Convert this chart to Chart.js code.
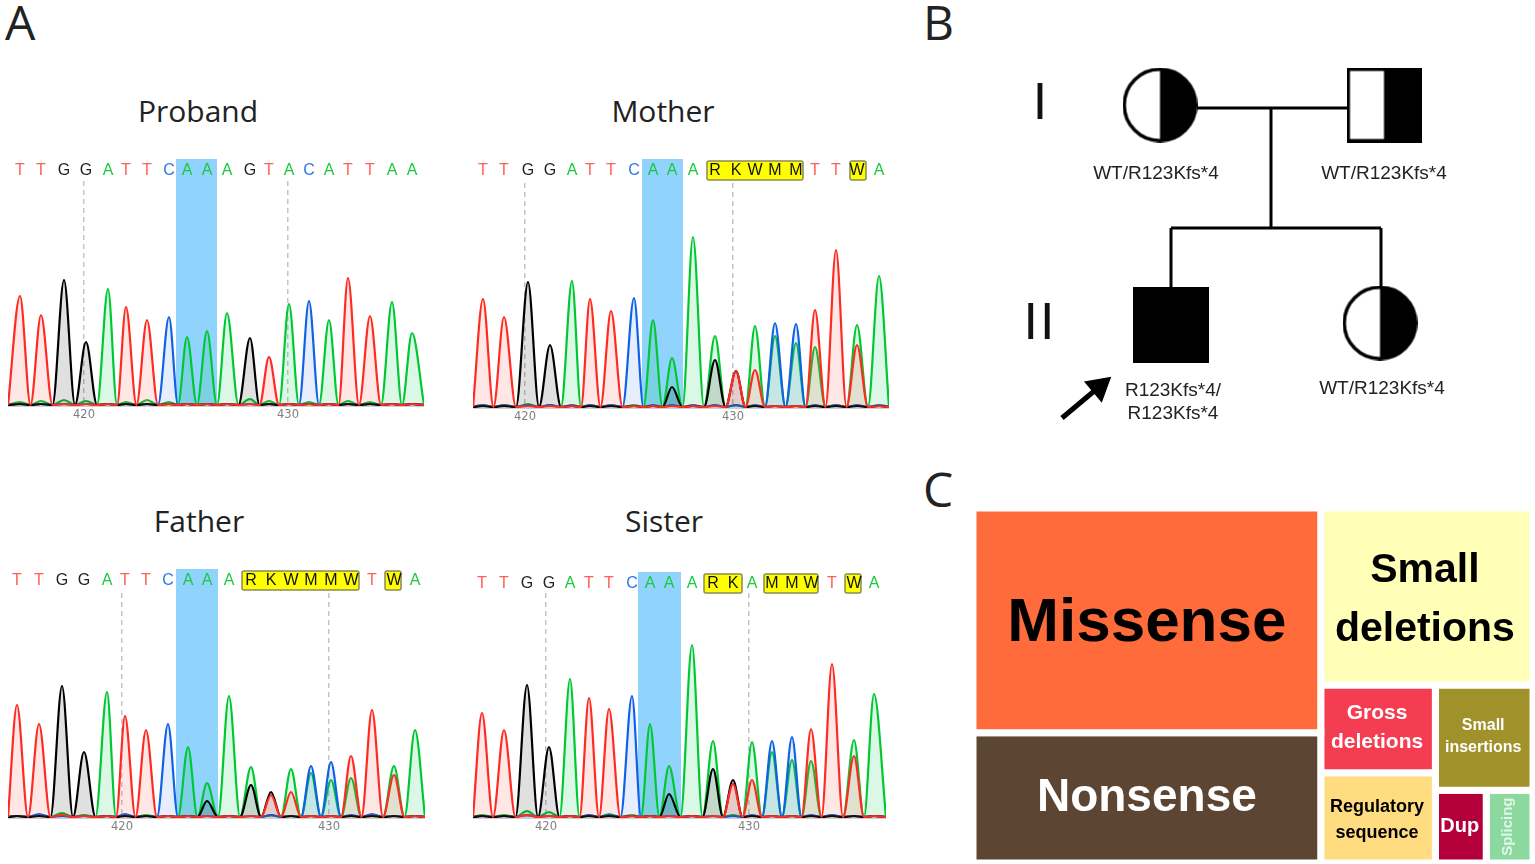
<!DOCTYPE html>
<html>
<head>
<meta charset="utf-8">
<title>Sequencing, pedigree and mutation types</title>
<script src="https://cdn.jsdelivr.net/npm/chart.js@4/dist/chart.umd.min.js"></script>
<style>
    html, body { margin: 0; padding: 0; background: #fff; width: 1535px; height: 864px; overflow: hidden; }
    canvas { position: absolute; display: block; }
    .txt { position: absolute; font-family: "Open Sans", sans-serif; color: #222; line-height: 1; white-space: nowrap; }
    .panel { font-size: 48px; }
    .name { font-size: 30px; transform: translateX(-50%); }
    .gen { font-family: "Liberation Sans", sans-serif; font-size: 52px; letter-spacing: 2px; color: #111; transform: translateX(-50%); }
</style>
</head>
<body>
<div class="txt panel" style="left:5px;top:-2px">A</div>
<div class="txt panel" style="left:923px;top:-2px">B</div>
<div class="txt panel" style="left:923px;top:465px">C</div>
<div class="txt name" style="left:198px;top:96px">Proband</div>
<div class="txt name" style="left:663px;top:96px">Mother</div>
<div class="txt name" style="left:199px;top:506px">Father</div>
<div class="txt name" style="left:664px;top:506px">Sister</div>
<div class="txt gen" style="left:1041px;top:75px">I</div>
<div class="txt gen" style="left:1040px;top:295px">II</div>

<canvas id="proband" width="416" height="270" style="left:8px;top:155px"></canvas>
<canvas id="mother" width="416" height="270" style="left:473px;top:157px"></canvas>
<canvas id="father" width="417" height="270" style="left:8px;top:567px"></canvas>
<canvas id="sister" width="413" height="270" style="left:473px;top:567px"></canvas>
<canvas id="pedigree" width="430" height="390" style="left:1020px;top:50px"></canvas>
<canvas id="treemap" width="560" height="355" style="left:973px;top:508px"></canvas>

<script>
// Proband trace
const probandBases = 'TTGGATTCAAAGTACATTAA';
const probandScan = [12, 33, 56, 78, 100, 118, 139, 161, 179, 199, 219, 242, 261, 281, 301, 321, 340, 362, 384, 404];
const probandT = [109, 90, 1, 1, 1, 98, 85, 1, 1, 1, 1, 1, 48, 1, 1, 1, 127, 89, 1, 1];
const probandA = [3, 4, 5, 4, 116, 3, 5, 3, 68, 74, 92, 6, 4, 101, 3, 85, 4, 3, 103, 72];
const probandC = [1, 1, 1, 1, 1, 1, 1, 88, 1, 1, 1, 1, 1, 1, 104, 1, 1, 1, 1, 1];
const probandG = [1, 1, 125, 63, 1, 1, 1, 1, 1, 1, 1, 67, 1, 1, 1, 1, 1, 1, 1, 1];
const probandTicks = [76, 280];

// Mother trace
const motherBases = 'TTGGATTCAAARKWMMTTWA';
const motherScan = [10, 31, 55, 77, 99, 117, 138, 161, 180, 199, 220, 242, 263, 282, 302, 323, 342, 363, 384, 406];
const motherT = [108, 90, 1, 1, 1, 108, 96, 1, 1, 1, 1, 1, 36, 37, 1, 1, 97, 157, 62, 1];
const motherA = [2, 2, 3, 2, 126, 2, 2, 2, 87, 49, 170, 71, 2, 81, 71, 64, 60, 2, 82, 131];
const motherC = [2, 2, 2, 2, 2, 2, 2, 109, 2, 2, 2, 2, 2, 2, 84, 83, 2, 2, 2, 2];
const motherG = [1, 1, 125, 62, 1, 1, 1, 1, 1, 20, 1, 47, 36, 1, 1, 1, 1, 1, 1, 1];
const motherTicks = [52, 260];

// Father trace
const fatherBases = 'TTGGATTCAAARKWMMWTWA';
const fatherScan = [9, 31, 54, 76, 99, 117, 138, 160, 180, 199, 221, 243, 263, 283, 303, 323, 343, 364, 386, 407];
const fatherT = [112, 93, 2, 1, 1, 101, 87, 1, 1, 1, 1, 1, 22, 25, 1, 1, 61, 107, 42, 1];
const fatherA = [1, 2, 4, 2, 125, 2, 2, 1, 70, 34, 121, 50, 2, 48, 44, 37, 39, 2, 51, 87];
const fatherC = [1, 3, 1, 1, 1, 3, 1, 93, 1, 1, 1, 1, 2, 1, 51, 55, 2, 3, 1, 1];
const fatherG = [1, 1, 131, 65, 1, 1, 1, 1, 1, 16, 1, 32, 25, 1, 1, 1, 1, 1, 1, 1];
const fatherTicks = [114, 321];

// Sister trace
const sisterBases = 'TTGGATTCAAARKAMMWTWA';
const sisterScan = [9, 31, 54, 76, 97, 116, 136, 159, 177, 196, 219, 240, 260, 279, 299, 319, 338, 359, 381, 401];
const sisterT = [104, 87, 2, 1, 1, 119, 108, 1, 1, 1, 1, 1, 33, 37, 1, 1, 88, 153, 61, 1];
const sisterA = [2, 2, 6, 5, 138, 2, 3, 2, 93, 51, 172, 76, 2, 75, 65, 57, 56, 2, 77, 123];
const sisterC = [1, 1, 2, 1, 1, 2, 2, 121, 1, 1, 1, 1, 1, 2, 76, 80, 2, 2, 1, 1];
const sisterG = [1, 1, 132, 70, 1, 1, 1, 1, 1, 23, 1, 48, 37, 1, 1, 1, 1, 1, 1, 1];
const sisterTicks = [73, 276];

const positionLabels = ['420', '430'];

// Pedigree
const pedigreeNames = ['WT/R123Kfs*4', 'WT/R123Kfs*4', 'R123Kfs*4/\nR123Kfs*4', 'WT/R123Kfs*4'];
const pedigreeX = [140, 364, 151, 360];
const pedigreeY = [55, 55, 275, 273];
const pedigreeLineX = [[177, 327], [251, 251], [151, 361], [151, 151], [361, 361]];
const pedigreeLineY = [[58, 58], [58, 178], [178, 178], [178, 238], [178, 238]];
const arrowX = [42, 79];
const arrowY = [368, 337];

// Mutation types, percent of all entries
const mutationTypes = ['Missense', 'Nonsense', 'Small deletions', 'Gross deletions', 'Regulatory sequence', 'Small insertions', 'Dup', 'Splicing'];
const mutationShare = [39.3, 22.8, 18.9, 5.06, 5.2, 5.17, 1.86, 1.71];
const mutationTree = [[0, 1], [2, [[3, 4], [5, [6, 7]]]]];

const traceColors = { T: '#ff2b22', G: '#000000', C: '#0f62e6', A: '#00c832' };
const traceFills = { T: 'rgba(255,60,40,0.12)', G: 'rgba(0,0,0,0.12)', C: 'rgba(30,100,235,0.11)', A: 'rgba(0,200,70,0.14)' };
const letterColors = { T: '#ff5f55', G: '#222222', C: '#2d78e8', A: '#1cc83e' };

function traceDataset(channel, heights, scan, scanEnd) {
    const points = [{ x: 0, y: 0 }];
    heights.forEach((h, i) => {
        points.push({ x: scan[i], y: h });
        const next = i < scan.length - 1 ? (scan[i] + scan[i + 1]) / 2 : scanEnd;
        points.push({ x: next, y: 0 });
    });
    return {
        label: channel,
        data: points,
        showLine: true,
        borderColor: traceColors[channel],
        backgroundColor: traceFills[channel],
        borderWidth: 2.2,
        pointRadius: 0,
        fill: 'origin',
        cubicInterpolationMode: 'monotone',
        clip: false
    };
}

function drawTrace(id, p) {
    const bandPlugin = {
        id: 'bands',
        beforeDraw(chart) {
            const { ctx, chartArea, scales } = chart;
            const x = scales.x;
            ctx.save();
            ctx.fillStyle = '#90d3fc';
            ctx.fillRect(x.getPixelForValue(p.blue[0]), chartArea.top - p.bandRise, x.getPixelForValue(p.blue[1]) - x.getPixelForValue(p.blue[0]), chartArea.bottom - chartArea.top + p.bandRise);
            p.yellow.forEach(box => {
                const left = x.getPixelForValue(box[0]);
                const right = x.getPixelForValue(box[1]);
                ctx.beginPath();
                ctx.roundRect(left, chartArea.top - p.lift - 9, right - left, 19, 2);
                ctx.fillStyle = '#ffff00';
                ctx.fill();
                ctx.lineWidth = 1.5;
                ctx.strokeStyle = '#8b8b55';
                ctx.stroke();
            });
            ctx.restore();
        }
    };
    new Chart(document.getElementById(id), {
        type: 'scatter',
        data: {
            datasets: [
                traceDataset('T', p.T, p.scan, p.end),
                traceDataset('G', p.G, p.scan, p.end),
                traceDataset('C', p.C, p.scan, p.end),
                traceDataset('A', p.A, p.scan, p.end)
            ]
        },
        plugins: [bandPlugin],
        options: {
            responsive: false,
            animation: false,
            layout: { padding: 0, autoPadding: false },
            plugins: { legend: { display: false }, tooltip: { enabled: false } },
            scales: {
                x: {
                    type: 'linear',
                    position: 'bottom',
                    min: 0,
                    max: p.end,
                    afterBuildTicks: axis => { axis.ticks = p.ticks.map(v => ({ value: v })); },
                    afterFit: axis => { axis.height = 20; },
                    grid: { color: '#c4c4c4', lineWidth: 1.5, drawTicks: false },
                    border: { color: '#cfcfcf', width: 3, dash: [5, 4] },
                    ticks: {
                        autoSkip: false,
                        maxRotation: 0,
                        padding: 3,
                        color: '#808080',
                        font: { family: 'DejaVu Sans', size: 11.5 },
                        callback: (value, index) => positionLabels[index]
                    }
                },
                xTop: {
                    type: 'linear',
                    position: 'top',
                    min: 0,
                    max: p.end,
                    afterBuildTicks: axis => { axis.ticks = p.scan.map(v => ({ value: v })); },
                    afterFit: axis => { axis.height = 26; },
                    grid: { display: false, drawTicks: false },
                    border: { display: false },
                    ticks: {
                        autoSkip: false,
                        maxRotation: 0,
                        padding: p.lift - 10,
                        font: { family: 'Liberation Sans', size: 16 },
                        color: ctx => letterColors[ctx.tick.label] || '#111111',
                        callback: (value, index) => p.bases[index]
                    }
                },
                y: { display: false, min: 0, max: 224 }
            }
        }
    });
}

drawTrace('proband', { bases: probandBases, scan: probandScan, T: probandT, A: probandA, C: probandC, G: probandG, ticks: probandTicks, end: 416, blue: [168, 209], yellow: [], lift: 11, bandRise: 22 });
drawTrace('mother', { bases: motherBases, scan: motherScan, T: motherT, A: motherA, C: motherC, G: motherG, ticks: motherTicks, end: 416, blue: [169, 210], yellow: [[234, 330], [377, 393]], lift: 13, bandRise: 24 });
drawTrace('father', { bases: fatherBases, scan: fatherScan, T: fatherT, A: fatherA, C: fatherC, G: fatherG, ticks: fatherTicks, end: 417, blue: [168, 210], yellow: [[234, 351], [377, 393]], lift: 13, bandRise: 24 });
drawTrace('sister', { bases: sisterBases, scan: sisterScan, T: sisterT, A: sisterA, C: sisterC, G: sisterG, ticks: sisterTicks, end: 413, blue: [165, 208], yellow: [[231, 269], [291, 345], [372, 388]], lift: 10, bandRise: 21 });

// half filled symbols for the carriers
function pedigreeSymbol(shape, size) {
    const c = document.createElement('canvas');
    c.width = size;
    c.height = size;
    const g = c.getContext('2d');
    const lw = 3.5;
    const m = size / 2;
    g.beginPath();
    if (shape === 'circle') g.arc(m, m, m - lw / 2, 0, Math.PI * 2);
    else g.rect(lw / 2, lw / 2, size - lw, size - lw);
    g.fillStyle = '#fff';
    g.fill();
    g.save();
    g.clip();
    g.fillStyle = '#000';
    g.fillRect(m, 0, m, size);
    g.restore();
    g.lineWidth = lw;
    g.strokeStyle = '#000';
    g.stroke();
    return c;
}

function solidSymbol(size) {
    const c = document.createElement('canvas');
    c.width = size;
    c.height = size;
    const g = c.getContext('2d');
    g.fillStyle = '#000';
    g.fillRect(0, 0, size, size);
    return c;
}

const pedigreeLabelPlugin = {
    id: 'pedigreeLabels',
    afterDraw(chart) {
        const { ctx, scales } = chart;
        const labelX = [136, 364, 153, 362];
        const labelY = [124, 124, 341, 339];
        ctx.save();
        ctx.fillStyle = '#222';
        ctx.font = '19px "Liberation Sans"';
        ctx.textAlign = 'center';
        ctx.textBaseline = 'middle';
        pedigreeNames.forEach((name, i) => {
            name.split('\n').forEach((line, k) => {
                ctx.fillText(line, scales.x.getPixelForValue(labelX[i]), scales.y.getPixelForValue(labelY[i] + k * 23));
            });
        });
        ctx.restore();
    }
};

new Chart(document.getElementById('pedigree'), {
    type: 'scatter',
    data: {
        datasets: [
            {
                label: 'Family',
                data: pedigreeX.map((x, i) => ({ x: x, y: pedigreeY[i] })),
                pointStyle: [pedigreeSymbol('circle', 75), pedigreeSymbol('square', 75), solidSymbol(76), pedigreeSymbol('circle', 75)],
                pointRadius: 38,
                clip: false
            },
            ...pedigreeLineX.map((xs, i) => ({
                data: xs.map((x, k) => ({ x: x, y: pedigreeLineY[i][k] })),
                showLine: true,
                borderColor: '#000',
                borderWidth: 3,
                pointRadius: 0
            })),
            {
                label: 'Proband arrow',
                data: arrowX.map((x, i) => ({ x: x, y: arrowY[i] })),
                showLine: true,
                borderColor: '#000',
                borderWidth: 5,
                backgroundColor: '#000',
                pointStyle: 'triangle',
                pointRadius: [0, 11],
                pointRotation: 50
            }
        ]
    },
    plugins: [pedigreeLabelPlugin],
    options: {
        responsive: false,
        animation: false,
        layout: { padding: 0, autoPadding: false },
        plugins: { legend: { display: false }, tooltip: { enabled: false } },
        scales: {
            x: { display: false, min: 0, max: 430 },
            y: { display: false, min: 0, max: 390, reverse: true }
        }
    }
});

// slice and dice layout, alternating direction at each depth
function layoutTree(node, box, depth, cells) {
    if (typeof node === 'number') {
        cells[node] = box;
        return;
    }
    const sum = n => (typeof n === 'number' ? mutationShare[n] : n.reduce((a, c) => a + sum(c), 0));
    const total = sum(node);
    let start = depth % 2 === 0 ? box.x0 : box.y0;
    node.forEach(child => {
        const span = (depth % 2 === 0 ? box.x1 - box.x0 : box.y1 - box.y0) * sum(child) / total;
        const part = depth % 2 === 0
            ? { x0: start, x1: start + span, y0: box.y0, y1: box.y1 }
            : { x0: box.x0, x1: box.x1, y0: start, y1: start + span };
        start += span;
        layoutTree(child, part, depth + 1, cells);
    });
}

const mutationCells = [];
layoutTree(mutationTree, { x0: 0, x1: 100, y0: 0, y1: 100 }, 0, mutationCells);

const cellColors = ['#ff6b3a', '#5c4633', '#ffffb8', '#f53d52', '#ffdc80', '#a1912b', '#b3003b', '#8cd9a0'];
const cellText = [
    { lines: ['Missense'], size: 62, gap: 0, dx: 0, dy: 4, color: '#000' },
    { lines: ['Nonsense'], size: 46, gap: 0, dx: 0, dy: 0, color: '#fff' },
    { lines: ['Small', 'deletions'], size: 41, gap: 59, dx: -2, dy: 4, color: '#000' },
    { lines: ['Gross', 'deletions'], size: 21, gap: 29, dx: -1, dy: -1, color: '#fff' },
    { lines: ['Regulatory', 'sequence'], size: 18, gap: 26, dx: -1, dy: 2, color: '#000' },
    { lines: ['Small', 'insertions'], size: 16, gap: 22, dx: -1, dy: -1, color: '#fff' },
    { lines: ['Dup'], size: 20, gap: 0, dx: -1, dy: 0, color: '#fff' },
    { lines: ['Splicing'], size: 15, gap: 0, dx: -2, dy: 0, color: '#e2f7e7', rotate: true }
];

const cellLabelPlugin = {
    id: 'cellLabels',
    afterDatasetsDraw(chart) {
        const { ctx, scales } = chart;
        ctx.save();
        ctx.textAlign = 'center';
        ctx.textBaseline = 'middle';
        mutationCells.forEach((c, i) => {
            const t = cellText[i];
            const cx = scales.x.getPixelForValue((c.x0 + c.x1) / 2) + t.dx;
            const cy = scales.y.getPixelForValue((c.y0 + c.y1) / 2) + t.dy;
            ctx.font = 'bold ' + t.size + 'px "Liberation Sans"';
            ctx.fillStyle = t.color;
            ctx.save();
            ctx.translate(cx, cy);
            if (t.rotate) ctx.rotate(-Math.PI / 2);
            t.lines.forEach((line, k) => {
                ctx.fillText(line, 0, (k - (t.lines.length - 1) / 2) * t.gap);
            });
            ctx.restore();
        });
        ctx.restore();
    }
};

new Chart(document.getElementById('treemap'), {
    type: 'scatter',
    data: {
        datasets: mutationCells.map((c, i) => ({
            label: mutationTypes[i],
            data: [
                { x: c.x0, y: c.y0 }, { x: c.x1, y: c.y0 }, { x: c.x1, y: c.y1 }, { x: c.x0, y: c.y1 }, { x: c.x0, y: c.y0 }
            ],
            showLine: true,
            fill: 'shape',
            backgroundColor: cellColors[i],
            borderColor: '#fff',
            borderWidth: 7,
            pointRadius: 0
        }))
    },
    plugins: [cellLabelPlugin],
    options: {
        responsive: false,
        animation: false,
        layout: { padding: 0, autoPadding: false },
        plugins: { legend: { display: false }, tooltip: { enabled: false } },
        scales: {
            x: { display: false, min: 0, max: 100 },
            y: { display: false, min: 0, max: 100, reverse: true }
        }
    }
});
</script>
</body>
</html>
